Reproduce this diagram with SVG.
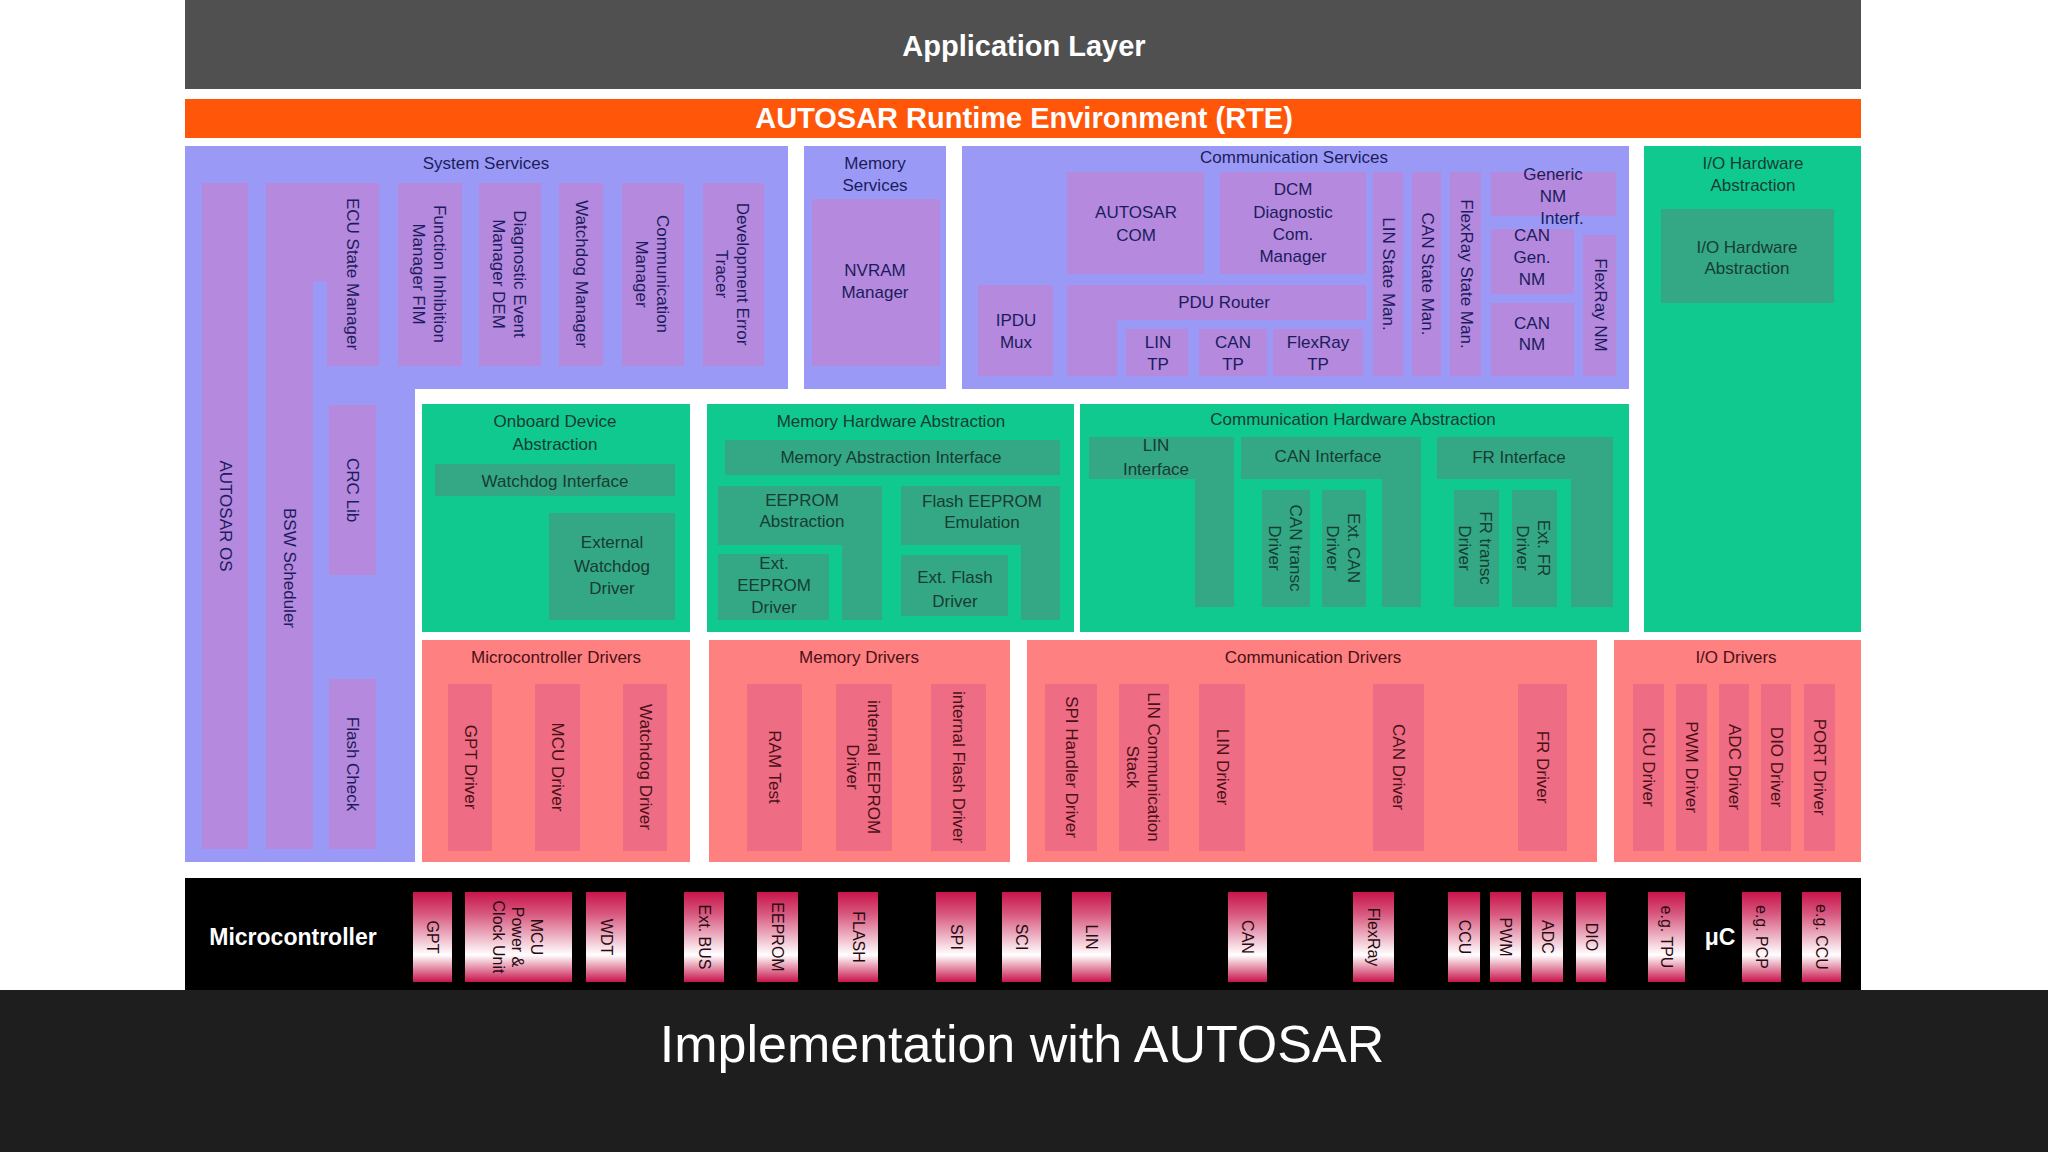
<svg xmlns="http://www.w3.org/2000/svg" width="2048" height="1152" viewBox="0 0 2048 1152">
<defs>
<linearGradient id="chip" x1="0" y1="0" x2="0" y2="1">
<stop offset="0" stop-color="#c8144a"/><stop offset="0.25" stop-color="#d85a80"/><stop offset="0.7" stop-color="#ffffff"/><stop offset="1" stop-color="#c8144a"/>
</linearGradient>
</defs>
<style>
text{font-family:"Liberation Sans",Arial,sans-serif;font-size:17px;text-anchor:middle;dominant-baseline:central}
.po{fill:#9a9af6}.pi{fill:#b489de}.go{fill:#10c98f}.gi{fill:#34a884}.ro{fill:#ff8080}.ri{fill:#ee6c84}
.tp{fill:#1c1c5c}.tg{fill:#173c33}.tr{fill:#4a1018}
.chip{fill:url(#chip)}.tc{fill:#2a0a12;font-size:16px}
.big{fill:#fff;font-weight:bold;font-size:29px}
.mc{fill:#fff;font-weight:bold;font-size:23px}
.cap{fill:#fff;font-size:52px}
</style>
<rect width="2048" height="1152" fill="#ffffff"/>
<g id="app"><rect x="185" y="0" width="1676" height="89" fill="#505050"/><text class="big" x="1024" y="46">Application Layer</text></g>
<g id="rte"><rect x="185" y="99" width="1676" height="39" fill="#ff560a"/><text class="big" x="1024" y="118">AUTOSAR Runtime Environment (RTE)</text></g>

<g id="system-services">
<path class="po" d="M185 146H788V389H415V862H185Z"/>
<text class="tp" x="486" y="163">System Services</text>
<rect class="pi" x="202" y="183" width="46" height="666"/>
<text class="tp" transform="translate(225,516) rotate(90)">AUTOSAR OS</text>
<path class="pi" d="M266 183H327V281H313V849H266Z"/>
<text class="tp" transform="translate(289,568) rotate(90)">BSW Scheduler</text>
<path class="pi" d="M266 183H379V366H327V268H266Z"/>
<text class="tp" transform="translate(352,274) rotate(90)">ECU State Manager</text>
<rect class="pi" x="329" y="405" width="47" height="170"/>
<text class="tp" transform="translate(352,490) rotate(90)">CRC Lib</text>
<rect class="pi" x="329" y="679" width="47" height="170"/>
<text class="tp" transform="translate(352,764) rotate(90)">Flash Check</text>
<rect class="pi" x="398" y="183" width="64" height="183"/>
<text class="tp" transform="translate(430,274) rotate(90)"><tspan x="0" y="-10">Function Inhibition</tspan><tspan x="0" y="11">Manager  FIM</tspan></text>
<rect class="pi" x="479" y="183" width="62" height="183"/>
<text class="tp" transform="translate(510,274) rotate(90)"><tspan x="0" y="-10">Diagnostic Event</tspan><tspan x="0" y="11">Manager DEM</tspan></text>
<rect class="pi" x="559" y="183" width="44" height="183"/>
<text class="tp" transform="translate(581,274) rotate(90)">Watchdog Manager</text>
<rect class="pi" x="622" y="183" width="62" height="183"/>
<text class="tp" transform="translate(653,274) rotate(90)"><tspan x="0" y="-10">Communication</tspan><tspan x="0" y="11">Manager</tspan></text>
<rect class="pi" x="703" y="183" width="61" height="183"/>
<text class="tp" transform="translate(733,274) rotate(90)"><tspan x="0" y="-10">Development Error</tspan><tspan x="0" y="11">Tracer</tspan></text>
</g>

<g id="memory-services">
<rect class="po" x="804" y="146" width="142" height="243"/>
<text class="tp" x="875" y="163">Memory</text><text class="tp" x="875" y="185">Services</text>
<rect class="pi" x="812" y="199" width="128" height="167"/>
<text class="tp" x="875" y="270">NVRAM</text><text class="tp" x="875" y="292">Manager</text>
</g>

<g id="communication-services">
<rect class="po" x="962" y="146" width="667" height="243"/>
<text class="tp" x="1294" y="157">Communication Services</text>
<rect class="pi" x="1067" y="172" width="137" height="102"/>
<text class="tp" x="1136" y="212">AUTOSAR</text><text class="tp" x="1136" y="235">COM</text>
<rect class="pi" x="1220" y="172" width="146" height="102"/>
<text class="tp" x="1293" y="189">DCM</text><text class="tp" x="1293" y="212">Diagnostic</text><text class="tp" x="1293" y="234">Com.</text><text class="tp" x="1293" y="256">Manager</text>
<rect class="pi" x="1373" y="172" width="30" height="204"/>
<text class="tp" transform="translate(1388,274) rotate(90)">LIN State Man.</text>
<rect class="pi" x="1412" y="172" width="29" height="204"/>
<text class="tp" transform="translate(1427,274) rotate(90)">CAN State Man.</text>
<rect class="pi" x="1450" y="172" width="31" height="204"/>
<text class="tp" transform="translate(1466,274) rotate(90)">FlexRay State Man.</text>
<rect class="pi" x="1491" y="172" width="125" height="44"/>
<text class="tp" x="1553" y="174">Generic</text><text class="tp" x="1553" y="196">NM</text><text class="tp" x="1562" y="218">Interf.</text>
<rect class="pi" x="1491" y="229" width="83" height="65"/>
<text class="tp" x="1532" y="235">CAN</text><text class="tp" x="1532" y="257">Gen.</text><text class="tp" x="1532" y="279">NM</text>
<rect class="pi" x="1491" y="303" width="83" height="73"/>
<text class="tp" x="1532" y="323">CAN</text><text class="tp" x="1532" y="344">NM</text>
<rect class="pi" x="1583" y="235" width="33" height="141"/>
<text class="tp" transform="translate(1600,305) rotate(90)">FlexRay NM</text>
<rect class="pi" x="978" y="285" width="75" height="91"/>
<text class="tp" x="1016" y="320">IPDU</text><text class="tp" x="1016" y="342">Mux</text>
<path class="pi" d="M1067 285H1366V320H1117V376H1067Z"/>
<text class="tp" x="1224" y="302">PDU Router</text>
<rect class="pi" x="1126" y="329" width="62" height="47"/>
<text class="tp" x="1158" y="342">LIN</text><text class="tp" x="1158" y="364">TP</text>
<rect class="pi" x="1199" y="329" width="68" height="47"/>
<text class="tp" x="1233" y="342">CAN</text><text class="tp" x="1233" y="364">TP</text>
<rect class="pi" x="1273" y="329" width="90" height="47"/>
<text class="tp" x="1318" y="342">FlexRay</text><text class="tp" x="1318" y="364">TP</text>
</g>

<g id="io-hw-abstraction">
<rect class="go" x="1644" y="146" width="217" height="486"/>
<text class="tg" x="1753" y="163">I/O Hardware</text><text class="tg" x="1753" y="185">Abstraction</text>
<rect class="gi" x="1661" y="209" width="173" height="94"/>
<text class="tg" x="1747" y="247">I/O Hardware</text><text class="tg" x="1747" y="268">Abstraction</text>
</g>

<g id="onboard-device-abstraction">
<rect class="go" x="422" y="404" width="268" height="228"/>
<text class="tg" x="555" y="421">Onboard Device</text><text class="tg" x="555" y="444">Abstraction</text>
<rect class="gi" x="435" y="464" width="240" height="32"/>
<text class="tg" x="555" y="481">Watchdog Interface</text>
<rect class="gi" x="549" y="513" width="126" height="107"/>
<text class="tg" x="612" y="542">External</text><text class="tg" x="612" y="566">Watchdog</text><text class="tg" x="612" y="588">Driver</text>
</g>

<g id="memory-hw-abstraction">
<rect class="go" x="707" y="404" width="367" height="228"/>
<text class="tg" x="891" y="421">Memory Hardware Abstraction</text>
<rect class="gi" x="725" y="440" width="335" height="35"/>
<text class="tg" x="891" y="457">Memory Abstraction Interface</text>
<path class="gi" d="M718 486H882V620H842V545H718Z"/>
<text class="tg" x="802" y="500">EEPROM</text><text class="tg" x="802" y="521">Abstraction</text>
<rect class="gi" x="718" y="554" width="111" height="66"/>
<text class="tg" x="774" y="563">Ext.</text><text class="tg" x="774" y="585">EEPROM</text><text class="tg" x="774" y="607">Driver</text>
<path class="gi" d="M901 486H1060V620H1021V545H901Z"/>
<text class="tg" x="982" y="501">Flash EEPROM</text><text class="tg" x="982" y="522">Emulation</text>
<rect class="gi" x="901" y="555" width="107" height="61"/>
<text class="tg" x="955" y="577">Ext. Flash</text><text class="tg" x="955" y="601">Driver</text>
</g>

<g id="comm-hw-abstraction">
<rect class="go" x="1080" y="404" width="549" height="228"/>
<text class="tg" x="1353" y="419">Communication Hardware Abstraction</text>
<path class="gi" d="M1089 437H1234V607H1195V479H1089Z"/>
<text class="tg" x="1156" y="445">LIN</text><text class="tg" x="1156" y="469">Interface</text>
<path class="gi" d="M1241 437H1421V607H1382V479H1241Z"/>
<text class="tg" x="1328" y="456">CAN Interface</text>
<rect class="gi" x="1262" y="490" width="48" height="117"/>
<text class="tg" transform="translate(1286,548) rotate(90)"><tspan x="0" y="-10">CAN transc</tspan><tspan x="0" y="11">Driver</tspan></text>
<rect class="gi" x="1322" y="490" width="44" height="117"/>
<text class="tg" transform="translate(1344,548) rotate(90)"><tspan x="0" y="-10">Ext. CAN</tspan><tspan x="0" y="11">Driver</tspan></text>
<path class="gi" d="M1437 437H1613V607H1571V479H1437Z"/>
<text class="tg" x="1519" y="457">FR Interface</text>
<rect class="gi" x="1454" y="490" width="45" height="117"/>
<text class="tg" transform="translate(1476,548) rotate(90)"><tspan x="0" y="-10">FR transc</tspan><tspan x="0" y="11">Driver</tspan></text>
<rect class="gi" x="1512" y="490" width="45" height="117"/>
<text class="tg" transform="translate(1534,548) rotate(90)"><tspan x="0" y="-10">Ext. FR</tspan><tspan x="0" y="11">Driver</tspan></text>
</g>

<g id="microcontroller-drivers">
<rect class="ro" x="422" y="640" width="268" height="222"/>
<text class="tr" x="556" y="657">Microcontroller Drivers</text>
<rect class="ri" x="448" y="684" width="44" height="167"/><text class="tr" transform="translate(470,767) rotate(90)">GPT Driver</text>
<rect class="ri" x="535" y="684" width="45" height="167"/><text class="tr" transform="translate(557,767) rotate(90)">MCU Driver</text>
<rect class="ri" x="623" y="684" width="44" height="167"/><text class="tr" transform="translate(645,767) rotate(90)">Watchdog Driver</text>
</g>
<g id="memory-drivers">
<rect class="ro" x="709" y="640" width="301" height="222"/>
<text class="tr" x="859" y="657">Memory Drivers</text>
<rect class="ri" x="747" y="684" width="55" height="167"/><text class="tr" transform="translate(774,767) rotate(90)">RAM Test</text>
<rect class="ri" x="836" y="684" width="56" height="167"/><text class="tr" transform="translate(864,767) rotate(90)"><tspan x="0" y="-10">internal EEPROM</tspan><tspan x="0" y="11">Driver</tspan></text>
<rect class="ri" x="931" y="684" width="55" height="167"/><text class="tr" transform="translate(958,767) rotate(90)">internal Flash Driver</text>
</g>
<g id="communication-drivers">
<rect class="ro" x="1027" y="640" width="570" height="222"/>
<text class="tr" x="1313" y="657">Communication Drivers</text>
<rect class="ri" x="1045" y="684" width="52" height="167"/><text class="tr" transform="translate(1071,767) rotate(90)">SPI Handler Driver</text>
<rect class="ri" x="1119" y="684" width="50" height="167"/><text class="tr" transform="translate(1144,767) rotate(90)"><tspan x="0" y="-10">LIN Communication</tspan><tspan x="0" y="11">Stack</tspan></text>
<rect class="ri" x="1199" y="684" width="46" height="167"/><text class="tr" transform="translate(1222,767) rotate(90)">LIN Driver</text>
<rect class="ri" x="1373" y="684" width="51" height="167"/><text class="tr" transform="translate(1398,767) rotate(90)">CAN Driver</text>
<rect class="ri" x="1518" y="684" width="49" height="167"/><text class="tr" transform="translate(1542,767) rotate(90)">FR Driver</text>
</g>
<g id="io-drivers">
<rect class="ro" x="1614" y="640" width="247" height="222"/>
<text class="tr" x="1736" y="657">I/O Drivers</text>
<rect class="ri" x="1633" y="684" width="31" height="167"/><text class="tr" transform="translate(1648,767) rotate(90)">ICU Driver</text>
<rect class="ri" x="1676" y="684" width="31" height="167"/><text class="tr" transform="translate(1691,767) rotate(90)">PWM Driver</text>
<rect class="ri" x="1719" y="684" width="30" height="167"/><text class="tr" transform="translate(1734,767) rotate(90)">ADC Driver</text>
<rect class="ri" x="1761" y="684" width="30" height="167"/><text class="tr" transform="translate(1776,767) rotate(90)">DIO Driver</text>
<rect class="ri" x="1804" y="684" width="31" height="167"/><text class="tr" transform="translate(1819,767) rotate(90)">PORT Driver</text>
</g>

<g id="microcontroller">
<rect x="185" y="878" width="1676" height="112" fill="#000"/>
<text class="mc" x="293" y="937">Microcontroller</text>
<rect class="chip" x="413" y="892" width="39" height="90"/><text class="tc" transform="translate(432,937) rotate(90)">GPT</text>
<rect class="chip" x="465" y="892" width="107" height="90"/><text class="tc" transform="translate(518,937) rotate(90)"><tspan x="0" y="-19">MCU</tspan><tspan x="0" y="0">Power &amp;</tspan><tspan x="0" y="19">Clock Unit</tspan></text>
<rect class="chip" x="586" y="892" width="40" height="90"/><text class="tc" transform="translate(606,937) rotate(90)">WDT</text>
<rect class="chip" x="684" y="892" width="40" height="90"/><text class="tc" transform="translate(704,937) rotate(90)">Ext. BUS</text>
<rect class="chip" x="757" y="892" width="41" height="90"/><text class="tc" transform="translate(777,937) rotate(90)">EEPROM</text>
<rect class="chip" x="838" y="892" width="40" height="90"/><text class="tc" transform="translate(858,937) rotate(90)">FLASH</text>
<rect class="chip" x="936" y="892" width="40" height="90"/><text class="tc" transform="translate(956,937) rotate(90)">SPI</text>
<rect class="chip" x="1002" y="892" width="39" height="90"/><text class="tc" transform="translate(1021,937) rotate(90)">SCI</text>
<rect class="chip" x="1072" y="892" width="39" height="90"/><text class="tc" transform="translate(1091,937) rotate(90)">LIN</text>
<rect class="chip" x="1228" y="892" width="39" height="90"/><text class="tc" transform="translate(1247,937) rotate(90)">CAN</text>
<rect class="chip" x="1353" y="892" width="41" height="90"/><text class="tc" transform="translate(1373,937) rotate(90)">FlexRay</text>
<rect class="chip" x="1448" y="892" width="32" height="90"/><text class="tc" transform="translate(1464,937) rotate(90)">CCU</text>
<rect class="chip" x="1490" y="892" width="31" height="90"/><text class="tc" transform="translate(1505,937) rotate(90)">PWM</text>
<rect class="chip" x="1532" y="892" width="31" height="90"/><text class="tc" transform="translate(1547,937) rotate(90)">ADC</text>
<rect class="chip" x="1576" y="892" width="30" height="90"/><text class="tc" transform="translate(1591,937) rotate(90)">DIO</text>
<rect class="chip" x="1648" y="892" width="37" height="90"/><text class="tc" transform="translate(1666,937) rotate(90)">e.g. TPU</text>
<text class="mc" x="1720" y="937">μC</text>
<rect class="chip" x="1742" y="892" width="39" height="90"/><text class="tc" transform="translate(1761,937) rotate(90)">e.g. PCP</text>
<rect class="chip" x="1802" y="892" width="39" height="90"/><text class="tc" transform="translate(1821,937) rotate(90)">e.g. CCU</text>
</g>
<g id="connectors"/>
<g id="caption">
<rect x="0" y="990" width="2048" height="162" fill="#1e1e1e"/>
<text class="cap" x="1022" y="1044">Implementation with AUTOSAR</text>
</g>
</svg>
